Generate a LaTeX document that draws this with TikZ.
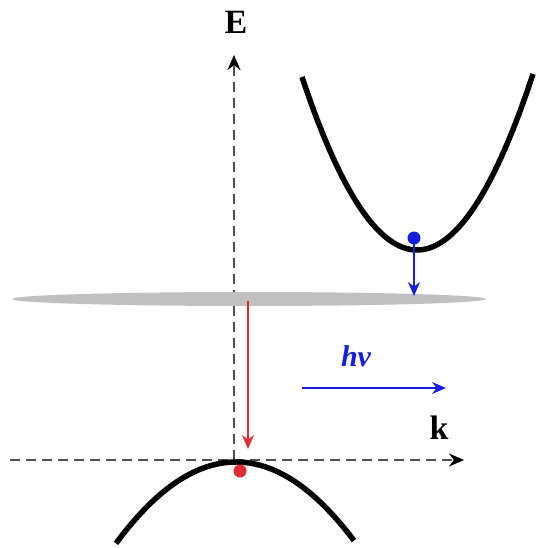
\documentclass[tikz,border=0pt]{standalone}
\usepackage{fontspec}
\setmainfont{Liberation Serif}
\usetikzlibrary{arrows.meta}
\definecolor{axisgray}{RGB}{80,80,80}
\definecolor{bandgray}{RGB}{192,192,192}
\definecolor{myblue}{RGB}{20,30,220}
\definecolor{myred}{RGB}{225,45,50}
\tikzset{
  axis/.style={axisgray, line width=2.6pt, dash pattern=on 10pt off 6pt, -{Stealth[length=15pt,width=13pt,black]}},
  band/.style={black, line width=5.5pt},
  lbl/.style={inner sep=0pt, font=\fontsize{34}{36}\selectfont\bfseries},
  dot/.style={circle, inner sep=0pt, minimum size=13pt},
  bluearrow/.style={myblue, line width=1.6pt, -{Stealth[length=14pt,width=12pt]}},
}
\begin{document}
\begin{tikzpicture}[x=1pt,y=1pt]
\useasboundingbox (0,0) rectangle (537,-548);
% axes
\coordinate (ebot) at (234,-460);
\coordinate (etop) at (234,-55);
\coordinate (kleft) at (10,-460);
\coordinate (kright) at (464,-460);
\draw[axis] (ebot) -- (etop);
\draw[axis] (kleft) -- (kright);
% gray band (impurity level)
\fill[bandgray] (249,-299) ellipse [x radius=237, y radius=7];
\node[lbl] (E) at (236,-22) {E};
\node[lbl] (k) at (439,-428) {k};
% conduction band
\draw[band, domain=302:533, samples=80] plot (\x, {-250 + 173*((\x-417)/115)^2});
% valence band
\draw[band, domain=116:354, samples=80] plot (\x, {-462 - 80*((\x-236)/119)^2});
% electron and hole
\node[dot, fill=myblue] (e) at (414,-238) {};
\node[dot, fill=myred] (h) at (240,-471) {};
% transitions
\coordinate (blueend) at (414,-296);
\draw[bluearrow] (e.center) -- (blueend);
\coordinate (redstart) at (248,-301);
\coordinate (redend) at (248,-449);
\draw[myred, line width=1.4pt, -{Stealth[length=14pt,width=12pt]}] (redstart) -- (redend);
% photon
\node[inner sep=0pt, myblue, font=\fontsize{30}{33}\selectfont\bfseries\itshape] (hv) at (356,-356) {hv};
\coordinate (pstart) at (302,-388);
\coordinate (pend) at (446,-388);
\draw[bluearrow] (pstart) -- (pend);
\end{tikzpicture}
\end{document}
